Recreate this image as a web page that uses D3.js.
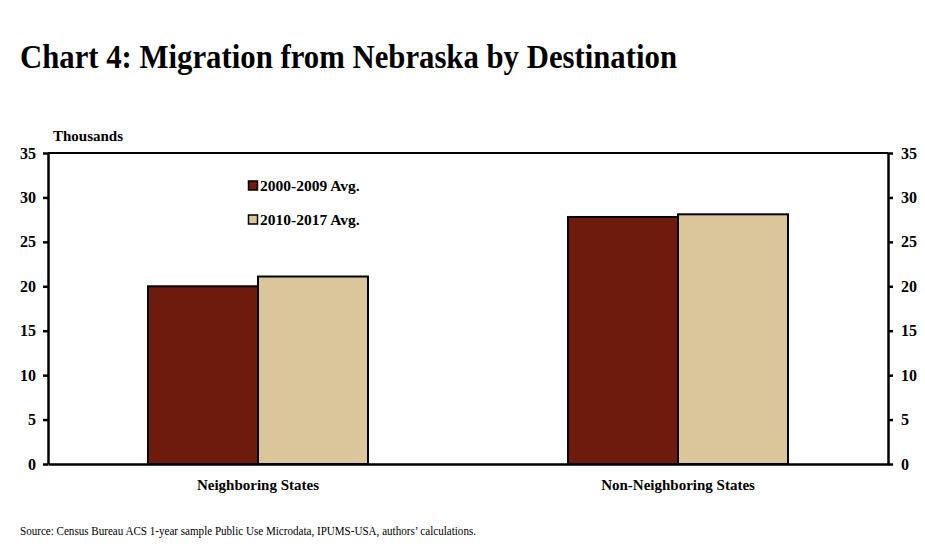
<!DOCTYPE html>
<html><head><meta charset="utf-8">
<script src="https://cdn.jsdelivr.net/npm/d3@7"></script>
<style>body{margin:0;background:#fff}svg{display:block}text{font-family:"Liberation Serif","Times New Roman",serif}</style>
</head><body><svg id="c" width="925" height="546"></svg>
<script>
const categories = ["Neighboring States", "Non-Neighboring States"];
const seriesNames = ["2000-2009 Avg.", "2010-2017 Avg."];
const series2000 = [20.0, 27.8];
const series2010 = [21.1, 28.1];
const yTicks = [0, 5, 10, 15, 20, 25, 30, 35];
const colors = ["#6E1A0D", "#DBC69C"];

const svg = d3.select("#c");
const L = 48, R = 888, T = 153, B = 464;
const y = d3.scaleLinear().domain([0, 35]).range([B, T]);
const x0 = d3.scaleBand().domain(categories).range([L, R]).paddingInner(200/420).paddingOuter(100/420);
const x1 = d3.scaleBand().domain(seriesNames).range([0, x0.bandwidth()]);
const data = categories.map((c, i) => ({cat: c, vals: [series2000[i], series2010[i]]}));

// title
svg.append("text").attr("x", 20).attr("y", 68).attr("font-size", 34).attr("font-weight", "bold")
  .attr("textLength", 657).attr("lengthAdjust", "spacingAndGlyphs")
  .text("Chart 4: Migration from Nebraska by Destination");

svg.append("text").attr("x", 53).attr("y", 141).attr("font-size", 15).attr("font-weight", "bold").text("Thousands");

// top border
svg.append("line").attr("x1", L).attr("x2", R).attr("y1", T).attr("y2", T).attr("stroke", "#000").attr("stroke-width", 2);

// bars
const g = svg.append("g");
data.forEach(d => {
  d.vals.forEach((v, j) => {
    g.append("rect")
      .attr("x", x0(d.cat) + x1(seriesNames[j]))
      .attr("y", y(v))
      .attr("width", x1.bandwidth())
      .attr("height", y(0) - y(v))
      .attr("fill", colors[j]).attr("stroke", "#000").attr("stroke-width", 2);
  });
});

function styleAxis(sel) {
  sel.select(".domain").attr("stroke", "#000").attr("stroke-width", 2.5);
  sel.selectAll(".tick line").attr("stroke", "#000").attr("stroke-width", 2.5);
  sel.selectAll(".tick text").attr("font-family", "Liberation Serif, serif").attr("font-size", 16).attr("font-weight", "bold").attr("fill", "#000");
}
const la = svg.append("g").attr("transform", `translate(${L},0)`)
  .call(d3.axisLeft(y).tickValues(yTicks).tickSize(5).tickSizeOuter(0).tickPadding(7));
styleAxis(la);
const ra = svg.append("g").attr("transform", `translate(${R},0)`)
  .call(d3.axisRight(y).tickValues(yTicks).tickSize(5).tickSizeOuter(0).tickPadding(8));
styleAxis(ra);
const ba = svg.append("g").attr("transform", `translate(0,${B})`)
  .call(d3.axisBottom(x0).tickSize(0).tickSizeOuter(0).tickPadding(15));
ba.select(".domain").attr("stroke", "#000").attr("stroke-width", 2.5);
ba.selectAll(".tick text").attr("font-family", "Liberation Serif, serif").attr("font-size", 15).attr("font-weight", "bold").attr("fill", "#000");

// legend
seriesNames.forEach((s, j) => {
  const ly = 185 + j * 34;
  svg.append("rect").attr("x", 248.5).attr("y", ly - 4).attr("width", 9).attr("height", 9)
    .attr("fill", colors[j]).attr("stroke", "#000").attr("stroke-width", 1.5);
  svg.append("text").attr("x", 260).attr("y", ly + 6).attr("font-size", 15.5).attr("font-weight", "bold").text(s);
});

svg.append("text").attr("x", 20).attr("y", 535).attr("font-size", 12)
  .attr("textLength", 456).attr("lengthAdjust", "spacingAndGlyphs")
  .text("Source: Census Bureau ACS 1-year sample Public Use Microdata, IPUMS-USA, authors’ calculations.");
</script></body></html>
